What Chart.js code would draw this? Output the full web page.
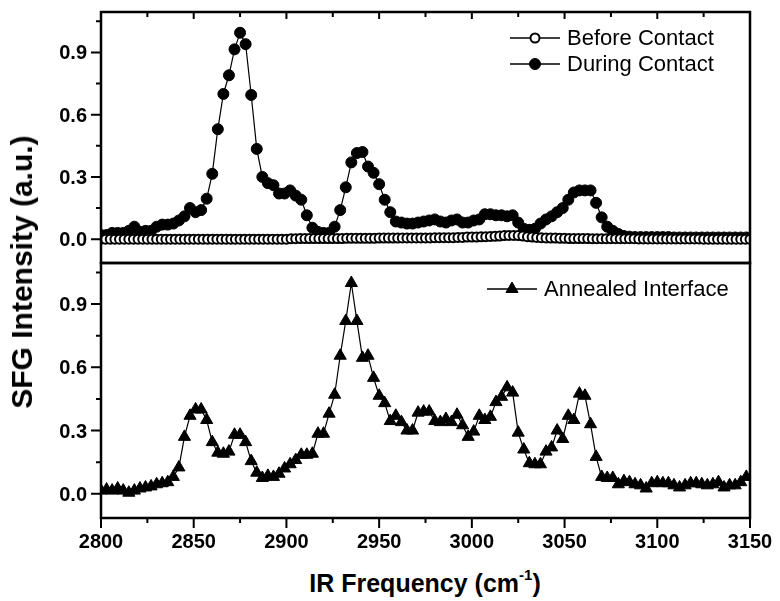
<!DOCTYPE html>
<html>
<head>
<meta charset="utf-8">
<script src="https://cdn.jsdelivr.net/npm/chart.js@4.4.1/dist/chart.umd.min.js"></script>
<style>
  html, body { margin: 0; padding: 0; background: #fff; }
  #wrap { position: relative; width: 780px; height: 601px; overflow: hidden; font-family: "Liberation Sans", Arial, sans-serif; }
  canvas { position: absolute; left: 0; }
  #topChart { top: 0; }
  #bottomChart { top: 261px; }
  .axis-title { position: absolute; font-weight: bold; color: #000; white-space: nowrap; }
  #xTitle { left: 425px; top: 583px; font-size: 25px; transform: translate(-50%, -50%); }
  #xTitle sup { font-size: 15px; position: relative; top: -2px; }
  #yTitle { left: 22px; top: 272px; font-size: 30px; transform: translate(-50%, -50%) rotate(-90deg); }
</style>
</head>
<body>
<div id="wrap">
  <canvas id="topChart" width="780" height="265"></canvas>
  <canvas id="bottomChart" width="780" height="300"></canvas>
  <div class="axis-title" id="yTitle">SFG Intensity (a.u.)</div>
  <div class="axis-title" id="xTitle">IR Frequency (cm<sup>-1</sup>)</div>
</div>
<script>
// IR frequency grids (cm-1)
const freqBefore = [
  2800, 2802.5, 2805, 2807.5, 2810, 2812.5, 2815, 2817.5, 2820, 2822.5,
  2825, 2827.5, 2830, 2832.5, 2835, 2837.5, 2840, 2842.5, 2845, 2847.5,
  2850, 2852.5, 2855, 2857.5, 2860, 2862.5, 2865, 2867.5, 2870, 2872.5,
  2875, 2877.5, 2880, 2882.5, 2885, 2887.5, 2890, 2892.5, 2895, 2897.5,
  2900, 2902.5, 2905, 2907.5, 2910, 2912.5, 2915, 2917.5, 2920, 2922.5,
  2925, 2927.5, 2930, 2932.5, 2935, 2937.5, 2940, 2942.5, 2945, 2947.5,
  2950, 2952.5, 2955, 2957.5, 2960, 2962.5, 2965, 2967.5, 2970, 2972.5,
  2975, 2977.5, 2980, 2982.5, 2985, 2987.5, 2990, 2992.5, 2995, 2997.5,
  3000, 3002.5, 3005, 3007.5, 3010, 3012.5, 3015, 3017.5, 3020, 3022.5,
  3025, 3027.5, 3030, 3032.5, 3035, 3037.5, 3040, 3042.5, 3045, 3047.5,
  3050, 3052.5, 3055, 3057.5, 3060, 3062.5, 3065, 3067.5, 3070, 3072.5,
  3075, 3077.5, 3080, 3082.5, 3085, 3087.5, 3090, 3092.5, 3095, 3097.5,
  3100, 3102.5, 3105, 3107.5, 3110, 3112.5, 3115, 3117.5, 3120, 3122.5,
  3125, 3127.5, 3130, 3132.5, 3135, 3137.5, 3140, 3142.5, 3145, 3147.5,
  3150
];
const freqScan = [
  2800, 2803, 2806, 2809, 2812, 2815, 2818, 2821, 2824, 2827,
  2830, 2833, 2836, 2839, 2842, 2845, 2848, 2851, 2854, 2857,
  2860, 2863, 2866, 2869, 2872, 2875, 2878, 2881, 2884, 2887,
  2890, 2893, 2896, 2899, 2902, 2905, 2908, 2911, 2914, 2917,
  2920, 2923, 2926, 2929, 2932, 2935, 2938, 2941, 2944, 2947,
  2950, 2953, 2956, 2959, 2962, 2965, 2968, 2971, 2974, 2977,
  2980, 2983, 2986, 2989, 2992, 2995, 2998, 3001, 3004, 3007,
  3010, 3013, 3016, 3019, 3022, 3025, 3028, 3031, 3034, 3037,
  3040, 3043, 3046, 3049, 3052, 3055, 3058, 3061, 3064, 3067,
  3070, 3073, 3076, 3079, 3082, 3085, 3088, 3091, 3094, 3097,
  3100, 3103, 3106, 3109, 3112, 3115, 3118, 3121, 3124, 3127,
  3130, 3133, 3136, 3139, 3142, 3145, 3148
];

// SFG intensities (a.u.)
const beforeContact = [
  0, 0, 0, 0, 0, 0, 0, 0, 0, 0,
  0, 0, 0, 0, 0, 0, 0, 0, 0, 0,
  0, 0, 0, 0, 0, 0, 0, 0, 0, 0,
  0, 0, 0, 0, 0, 0, 0, 0, 0, 0,
  0, 0.002, 0.002, 0.003, 0.003, 0.003, 0.003, 0.003, 0.003, 0.003,
  0.003, 0.003, 0.003, 0.004, 0.004, 0.004, 0.004, 0.004, 0.004, 0.004,
  0.005, 0.005, 0.005, 0.005, 0.005, 0.006, 0.006, 0.006, 0.006, 0.006,
  0.006, 0.006, 0.007, 0.007, 0.007, 0.007, 0.007, 0.008, 0.008, 0.01,
  0.01, 0.01, 0.011, 0.012, 0.013, 0.014, 0.015, 0.017, 0.018, 0.018,
  0.017, 0.015, 0.012, 0.01, 0.008, 0.007, 0.006, 0.005, 0.005, 0.004,
  0.004, 0.003, 0.003, 0.003, 0.003, 0.003, 0.002, 0.002, 0.002, 0.002,
  0.002, 0.002, 0.002, 0.002, 0.002, 0.002, 0.001, 0.001, 0.001, 0.001,
  0.001, 0.001, 0.001, 0.001, 0.001, 0.001, 0.001, 0.001, 0.001, 0.001,
  0, 0, 0, 0, 0, 0, 0, 0, 0, 0,
  0
];
const duringContact = [
  0.02, 0.02, 0.03, 0.03, 0.03, 0.04, 0.06, 0.035, 0.04, 0.04,
  0.06, 0.07, 0.07, 0.075, 0.09, 0.11, 0.15, 0.13, 0.14, 0.195,
  0.315, 0.53, 0.70, 0.79, 0.915, 0.995, 0.94, 0.695, 0.435, 0.30,
  0.27, 0.26, 0.22, 0.22, 0.235, 0.21, 0.19, 0.115, 0.055, 0.035,
  0.03, 0.03, 0.06, 0.14, 0.25, 0.37, 0.415, 0.42, 0.35, 0.32,
  0.265, 0.19, 0.13, 0.085, 0.08, 0.075, 0.075, 0.08, 0.085, 0.09,
  0.095, 0.085, 0.08, 0.09, 0.095, 0.08, 0.08, 0.09, 0.095, 0.12,
  0.12, 0.115, 0.115, 0.11, 0.115, 0.08, 0.05, 0.045, 0.05, 0.075,
  0.095, 0.11, 0.13, 0.15, 0.19, 0.225, 0.235, 0.235, 0.235, 0.175,
  0.105, 0.06, 0.04, 0.025, 0.015, 0.012, 0.01, 0.01, 0.01, 0.01,
  0.01, 0.01, 0.01, 0.008, 0.008, 0.008, 0.008, 0.008, 0.008, 0.008,
  0.008, 0.008, 0.008, 0.008, 0.008, 0.008, 0.008
];
const annealedInterface = [
  0.015, 0.02, 0.015, 0.025, 0.015, 0.005, 0.015, 0.025, 0.03, 0.035,
  0.045, 0.05, 0.055, 0.08, 0.125, 0.27, 0.37, 0.40, 0.40, 0.35,
  0.245, 0.195, 0.19, 0.20, 0.28, 0.28, 0.245, 0.155, 0.10, 0.075,
  0.085, 0.08, 0.095, 0.12, 0.14, 0.16, 0.185, 0.185, 0.19, 0.285,
  0.285, 0.38, 0.47, 0.655, 0.82, 1.0, 0.82, 0.645, 0.655, 0.55,
  0.465, 0.43, 0.345, 0.37, 0.34, 0.30, 0.30, 0.385, 0.39, 0.39,
  0.345, 0.34, 0.355, 0.34, 0.375, 0.325, 0.27, 0.295, 0.37, 0.35,
  0.365, 0.435, 0.46, 0.505, 0.48, 0.29, 0.21, 0.145, 0.14, 0.14,
  0.20, 0.22, 0.30, 0.26, 0.37, 0.35, 0.475, 0.465, 0.33, 0.175,
  0.08, 0.075, 0.075, 0.045, 0.06, 0.055, 0.045, 0.04, 0.025, 0.05,
  0.055, 0.05, 0.05, 0.04, 0.03, 0.04, 0.05, 0.05, 0.045, 0.04,
  0.045, 0.055, 0.03, 0.04, 0.04, 0.055, 0.08
];

// tick positions
const xMajorTicks = [2800, 2850, 2900, 2950, 3000, 3050, 3100, 3150];
const xMinorTicks = [2825, 2875, 2925, 2975, 3025, 3075, 3125];
const yMajorTicks = [0, 0.3, 0.6, 0.9];
const yMinorTicks = [0.15, 0.45, 0.75, 1.05];

const FONT = '"Liberation Sans", Arial, sans-serif';
Chart.defaults.font.family = FONT;
Chart.defaults.color = '#000';

const toPoints = (xs, ys) => xs.map((x, i) => ({ x: x, y: ys[i] }));

// frame, tick marks (outward on left/bottom, inward on top) and tick labels
const frameTicks = {
  id: 'frameTicks',
  afterDraw(chart, args, opts) {
    const { ctx, chartArea: a, scales } = chart;
    const x = scales.x, y = scales.y;
    ctx.save();
    ctx.strokeStyle = '#000';
    ctx.lineWidth = 2.5;
    ctx.strokeRect(a.left, a.top, a.right - a.left, a.bottom - a.top);
    ctx.lineWidth = 2;
    ctx.beginPath();
    yMajorTicks.forEach(v => { const p = y.getPixelForValue(v); ctx.moveTo(a.left - 10, p); ctx.lineTo(a.left, p); });
    yMinorTicks.forEach(v => { const p = y.getPixelForValue(v); ctx.moveTo(a.left - 5, p); ctx.lineTo(a.left, p); });
    if (opts.bottomTicks) {
      xMajorTicks.forEach(v => { const p = x.getPixelForValue(v); ctx.moveTo(p, a.bottom); ctx.lineTo(p, a.bottom + 10); });
      xMinorTicks.forEach(v => { const p = x.getPixelForValue(v); ctx.moveTo(p, a.bottom); ctx.lineTo(p, a.bottom + 5); });
    }
    if (opts.topTicks) {
      xMajorTicks.forEach(v => { const p = x.getPixelForValue(v); ctx.moveTo(p, a.top); ctx.lineTo(p, a.top + 7); });
      xMinorTicks.forEach(v => { const p = x.getPixelForValue(v); ctx.moveTo(p, a.top); ctx.lineTo(p, a.top + 5); });
    }
    ctx.stroke();

    ctx.fillStyle = '#000';
    ctx.font = 'bold 20px ' + FONT;
    ctx.textBaseline = 'alphabetic';
    ctx.textAlign = 'right';
    yMajorTicks.forEach(v => ctx.fillText(v.toFixed(1), a.left - 14, y.getPixelForValue(v) + 7));
    if (opts.bottomTicks) {
      ctx.textAlign = 'center';
      xMajorTicks.forEach(v => ctx.fillText(String(v), x.getPixelForValue(v), a.bottom + 30));
    }
    ctx.restore();
  }
};

// legend drawn inside the plot: line - marker - line, then label
const panelLegend = {
  id: 'panelLegend',
  afterDraw(chart, args, opts) {
    if (!opts.items) return;
    const ctx = chart.ctx;
    ctx.save();
    opts.items.forEach((it, i) => {
      const ds = chart.data.datasets[it.dataset];
      const cy = opts.y + i * opts.gap;
      ctx.strokeStyle = '#000';
      ctx.lineWidth = 1.5;
      ctx.beginPath();
      ctx.moveTo(opts.x, cy);
      ctx.lineTo(opts.x + 50, cy);
      ctx.stroke();
      ctx.fillStyle = ds.pointBackgroundColor;
      ctx.strokeStyle = ds.pointBorderColor;
      ctx.lineWidth = ds.pointBorderWidth;
      Chart.helpers.drawPoint(ctx, {
        pointStyle: ds.pointStyle,
        radius: ds.pointRadius,
        borderWidth: ds.pointBorderWidth
      }, opts.x + 25, cy);
      ctx.fillStyle = '#000';
      ctx.font = '22px ' + FONT;
      ctx.textBaseline = 'middle';
      ctx.textAlign = 'left';
      ctx.fillText(ds.label, opts.x + 57, cy + 1);
    });
    ctx.restore();
  }
};

function lineSet(label, xs, ys, style, fill, radius, bw) {
  return {
    label: label,
    data: toPoints(xs, ys),
    borderColor: '#000',
    borderWidth: 1.2,
    pointStyle: style,
    pointRadius: radius,
    pointBorderWidth: bw,
    pointBackgroundColor: fill,
    pointBorderColor: '#000',
    showLine: true,
    tension: 0
  };
}

const xScale = { type: 'linear', min: 2800, max: 3150, display: false };
const yScale = { type: 'linear', min: -0.115, max: 1.095, display: false };

const topChart = new Chart(document.getElementById('topChart'), {
  type: 'line',
  data: {
    datasets: [
      lineSet('Before Contact', freqBefore, beforeContact, 'circle', '#fff', 4.5, 2),
      lineSet('During Contact', freqScan, duringContact, 'circle', '#000', 5.5, 1)
    ]
  },
  options: {
    responsive: false,
    animation: false,
    devicePixelRatio: 1,
    layout: { autoPadding: false, padding: { top: 12, bottom: 2, left: 101, right: 30 } },
    scales: { x: xScale, y: yScale },
    plugins: {
      legend: { display: false },
      tooltip: { enabled: false },
      frameTicks: { topTicks: true },
      panelLegend: { x: 510, y: 38, gap: 26, items: [{ dataset: 0 }, { dataset: 1 }] }
    }
  },
  plugins: [frameTicks, panelLegend]
});

const bottomChart = new Chart(document.getElementById('bottomChart'), {
  type: 'line',
  data: {
    datasets: [
      lineSet('Annealed Interface', freqScan, annealedInterface, 'triangle', '#000', 7, 1)
    ]
  },
  options: {
    responsive: false,
    animation: false,
    devicePixelRatio: 1,
    layout: { autoPadding: false, padding: { top: 2, bottom: 43, left: 101, right: 30 } },
    scales: { x: xScale, y: yScale },
    plugins: {
      legend: { display: false },
      tooltip: { enabled: false },
      frameTicks: { bottomTicks: true },
      panelLegend: { x: 487, y: 28, gap: 0, items: [{ dataset: 0 }] }
    }
  },
  plugins: [frameTicks, panelLegend]
});
</script>
</body>
</html>
